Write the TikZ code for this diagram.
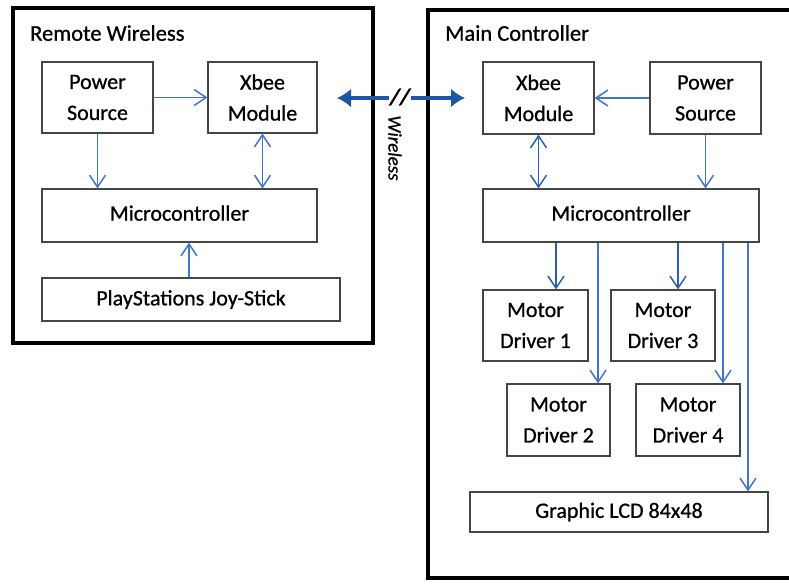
\documentclass[tikz,border=0pt]{standalone}
\usepackage{fontspec}
\setmainfont{Carlito}[FakeBold=0.8]
\usetikzlibrary{arrows.meta,positioning}
\definecolor{linkblue}{RGB}{65,118,205}
\definecolor{darkblue}{RGB}{40,95,180}
\definecolor{wireblue}{RGB}{30,85,165}
\definecolor{boxgray}{RGB}{70,70,70}
\begin{document}
\begin{tikzpicture}[x=1pt,y=-1pt,
  font=\fontsize{22}{31}\selectfont,
  outer/.style={draw=black,line width=3.6pt},
  blk/.style={draw=boxgray,line width=1.1pt,fill=white,align=center,inner sep=0pt},
  arr/.style={draw=linkblue,line width=1.5pt,-{Straight Barb[length=12pt,width=16pt,line width=1.5pt]}},
  darr/.style={arr,{Straight Barb[length=12pt,width=16pt,line width=1.5pt]}-{Straight Barb[length=12pt,width=16pt,line width=1.5pt]}},
  darkarr/.style={arr,draw=darkblue},
  longarr/.style={arr,line width=2pt},
  title/.style={anchor=west,inner sep=0pt,font=\fontsize{22.5}{26}\selectfont}
]
\useasboundingbox (0,0) rectangle (789,587);
\fill[white] (0,0) rectangle (789,587);

% outer boxes
\draw[outer] (13,8) rectangle (373,343);
\draw[outer] (428,10) rectangle (820,578);
\node[title] (t1) at (30,33) {Remote Wireless};
\node[title] (t2) at (445,33) {Main Controller};

% left side blocks
\node[blk,minimum width=111pt,minimum height=71pt] (ps1) at (97.5,97.5) {Power\\Source};
\node[blk,minimum width=109pt,minimum height=71pt] (xb1) at (262.5,97.5) {Xbee\\Module};
\node[blk,minimum width=275pt,minimum height=53pt] (mc1) at (179.5,215.5) {\raisebox{5pt}{Microcontroller}};
\node[blk,minimum width=298pt,minimum height=43pt] (js) at (191,299.5) {PlayStations Joy-Stick};

\draw[arr] (ps1.east) -- (xb1.west);
\draw[arr] (ps1.south) -- (ps1.south |- mc1.north);
\draw[darr] (xb1.south) -- (xb1.south |- mc1.north);
\coordinate (xj) at (189,0);
\draw[arr] (js.north -| xj) -- (mc1.south -| xj);

% right side blocks
\node[blk,minimum width=111pt,minimum height=72pt] (xb2) at (538.5,98) {Xbee\\Module};
\node[blk,minimum width=111pt,minimum height=72pt] (ps2) at (705.5,98) {Power\\Source};
\node[blk,minimum width=276pt,minimum height=53pt] (mc2) at (621,215.5) {\raisebox{5pt}{Microcontroller}};
\node[blk,minimum width=105pt,minimum height=71pt] (md1) at (535.5,325.5) {Motor\\Driver 1};
\node[blk,minimum width=104pt,minimum height=71pt] (md3) at (663,325.5) {Motor\\Driver 3};
\node[blk,minimum width=103pt,minimum height=72pt] (md2) at (558.5,420) {Motor\\Driver 2};
\node[blk,minimum width=104pt,minimum height=72pt] (md4) at (688,420) {Motor\\Driver 4};
\node[blk,minimum width=298pt,minimum height=40pt] (lcd) at (619,512) {Graphic LCD 84x48};

\draw[arr] (ps2.west) -- (xb2.east);
\draw[darr,draw=darkblue] (xb2.south) -- (xb2.south |- mc2.north);
\draw[arr] (ps2.south) -- (ps2.south |- mc2.north);

\coordinate (x1) at (556,0);
\coordinate (x2) at (598,0);
\coordinate (x3) at (678,0);
\coordinate (x4) at (723,0);
\coordinate (x5) at (748,0);
\draw[darkarr] (mc2.south -| x1) -- (md1.north -| x1);
\draw[longarr] (mc2.south -| x2) -- (md2.north -| x2);
\draw[darkarr] (mc2.south -| x3) -- (md3.north -| x3);
\draw[longarr] (mc2.south -| x4) -- (md4.north -| x4);
\draw[longarr] (mc2.south -| x5) -- (lcd.north -| x5);

% wireless link
\coordinate (wl) at (337,98);
\coordinate (wr) at (465,98);
\draw[draw=wireblue,line width=4pt,{Latex[length=14pt,width=19pt]}-{Latex[length=14pt,width=19pt]}] (wl) -- (wr);
\node[fill=white,inner sep=1pt,font=\fontsize{23}{23}\selectfont\bfseries\itshape] (sl) at (400,97) {//};
\node[rotate=-90,inner sep=0pt,font=\fontsize{19}{19}\selectfont\itshape] (wtxt) at (395,148) {Wireless};
\end{tikzpicture}
\end{document}
